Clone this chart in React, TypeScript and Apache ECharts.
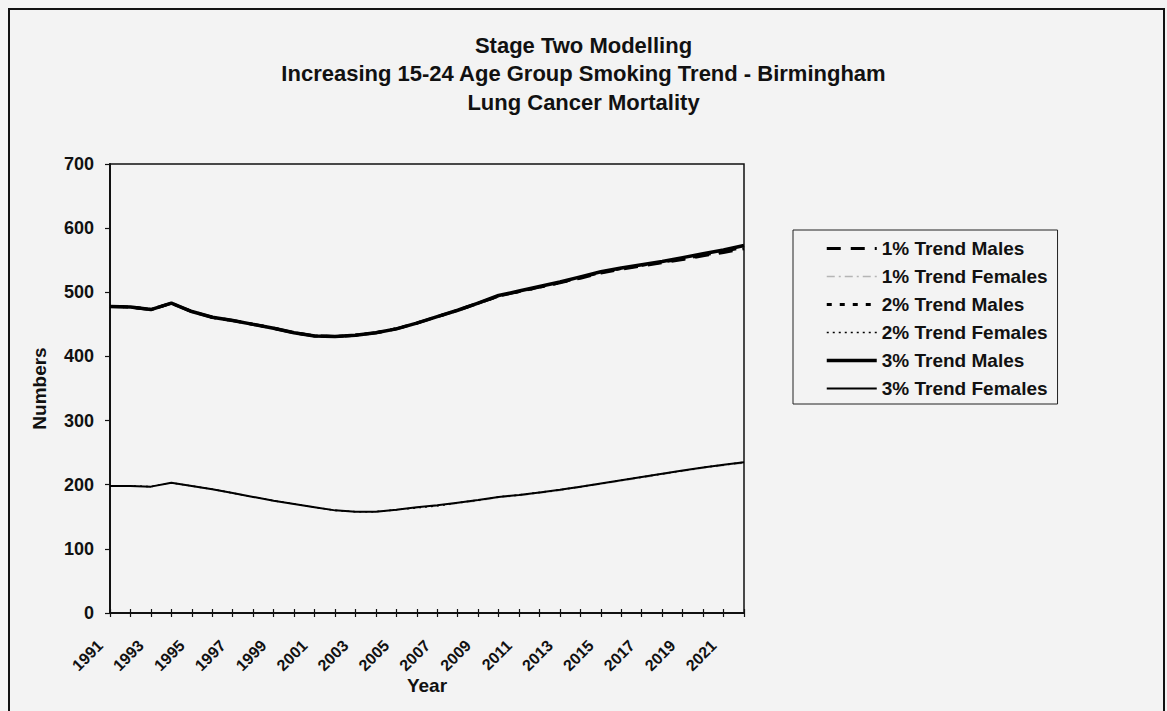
import React, { useEffect, useRef } from "react";
import * as echarts from "echarts";

const years = [
  "1991", "1992", "1993", "1994", "1995", "1996", "1997", "1998", "1999", "2000",
  "2001", "2002", "2003", "2004", "2005", "2006", "2007", "2008", "2009", "2010",
  "2011", "2012", "2013", "2014", "2015", "2016", "2017", "2018", "2019", "2020",
  "2021", "2022",
];

const males1 = [
  478, 477, 473, 483, 470, 461, 456, 450, 444, 437, 432, 431, 433, 437, 443, 452,
  462, 472, 483, 494, 501, 508, 515, 522, 530, 536, 541, 546, 551, 557, 562, 568,
];
const females1 = [
  198, 198, 197, 203, 198, 193, 187, 181, 175, 170, 165, 160, 158, 158, 161, 164,
  167, 171, 175, 180, 183, 187, 191, 196, 201, 206, 211, 216, 221, 226, 230, 234,
];
const males2 = [
  478, 477, 473, 483, 470, 461, 456, 450, 444, 437, 432, 431, 433, 437, 443, 452,
  462, 472, 483, 494, 501, 508, 515, 523, 531, 537, 542, 547, 552, 558, 564, 570,
];
const females2 = [
  198, 198, 197, 203, 198, 193, 187, 181, 175, 170, 165, 160, 158, 158, 161, 164,
  167, 172, 176, 181, 184, 188, 192, 197, 202, 207, 212, 217, 222, 227, 231, 235,
];
const males3 = [
  478, 477, 473, 483, 470, 461, 456, 450, 444, 437, 432, 431, 433, 437, 443, 452,
  462, 472, 483, 495, 502, 509, 516, 524, 532, 538, 543, 548, 554, 560, 566, 573,
];
const females3 = [
  198, 198, 197, 203, 198, 193, 187, 181, 175, 170, 165, 160, 158, 158, 161, 165,
  168, 172, 176, 181, 184, 188, 192, 197, 202, 207, 212, 217, 222, 227, 231, 235,
];

const seriesNames = [
  "1% Trend Males",
  "1% Trend Females",
  "2% Trend Males",
  "2% Trend Females",
  "3% Trend Males",
  "3% Trend Females",
];

const titleLines = [
  "Stage Two Modelling",
  "Increasing 15-24 Age Group Smoking Trend - Birmingham",
  "Lung Cancer Mortality",
];

const FONT = "'Liberation Sans', Arial, Helvetica, sans-serif";

export default function App() {
  const ref = useRef<HTMLDivElement>(null);

  useEffect(() => {
    if (!ref.current) return;
    const chart = echarts.init(ref.current, undefined, { renderer: "svg" });

    const styles = [
      { color: "#000", width: 3, type: [14, 10] as any },
      { color: "#b5b5b5", width: 1.5, type: [8, 4, 2, 4] as any },
      { color: "#000", width: 3, type: [5, 8] as any },
      { color: "#000", width: 1.5, type: [2, 4] as any },
      { color: "#000", width: 3.5, type: "solid" as any },
      { color: "#000", width: 2, type: "solid" as any },
    ];
    const datasets = [males1, females1, males2, females2, males3, females3];

    const series = seriesNames.map((name, i) => ({
      name,
      type: "line",
      data: datasets[i],
      symbol: "none",
      xAxisIndex: 0,
      yAxisIndex: 0,
      lineStyle: { color: styles[i].color, width: styles[i].width, type: styles[i].type },
      itemStyle: { color: styles[i].color },
    }));

    chart.setOption({
      animation: false,
      backgroundColor: "#f3f3f3",
      textStyle: { fontFamily: FONT },
      title: {
        text: titleLines.join("\n"),
        left: "center",
        top: 31,
        padding: 0,
        textStyle: {
          fontFamily: FONT,
          fontSize: 22,
          fontWeight: "bold",
          color: "#111",
          lineHeight: 28.5,
        },
      },
      graphic: [
        {
          type: "rect",
          shape: { x: 9, y: 9, width: 1155, height: 712 },
          style: { fill: "none", stroke: "#111", lineWidth: 2 },
          silent: true,
        },
      ],
      legend: {
        orient: "vertical",
        left: 793,
        top: 230,
        padding: [9, 10, 6, 32],
        itemGap: 9,
        itemWidth: 50,
        itemHeight: 19,
        borderColor: "#222",
        borderWidth: 1,
        backgroundColor: "#f3f3f3",
        textStyle: { fontFamily: FONT, fontSize: 19, fontWeight: "bold", color: "#111" },
        data: seriesNames.map((name, i) => ({
          name,
          itemStyle: { opacity: 0 },
          lineStyle: { color: styles[i].color, width: styles[i].width, type: styles[i].type },
        })),
      },
      grid: {
        left: 110,
        top: 164,
        right: 423,
        bottom: 98,
        show: true,
        borderColor: "#111",
        borderWidth: 1.5,
        backgroundColor: "transparent",
      },
      xAxis: [
        {
          type: "category",
          data: years,
          boundaryGap: false,
          name: "Year",
          nameLocation: "middle",
          nameGap: 63,
          nameMoveOverlap: false,
          nameTextStyle: { fontFamily: FONT, fontSize: 19, fontWeight: "bold", color: "#111" },
          axisLine: { show: true, lineStyle: { color: "#111", width: 2 } },
          axisTick: { show: true, interval: 0, length: 4, lineStyle: { color: "#111", width: 1.2 } },
          axisLabel: {
            interval: 1,
            rotate: 45,
            margin: 20,
            padding: [0, 14, 0, 0],
            fontFamily: FONT,
            fontSize: 16,
            fontWeight: "bold",
            color: "#111",
          },
          splitLine: { show: false },
        },
        {
          type: "category",
          data: years,
          boundaryGap: false,
          position: "bottom",
          axisLine: { show: false },
          axisTick: { show: true, inside: true, interval: 0, length: 4, lineStyle: { color: "#111", width: 1.2 } },
          axisLabel: { show: false },
          splitLine: { show: false },
        },
      ],
      yAxis: {
        type: "value",
        min: 0,
        max: 700,
        interval: 100,
        name: "Numbers",
        nameLocation: "middle",
        nameGap: 61,
        nameMoveOverlap: false,
        nameRotate: 90,
        nameTextStyle: { fontFamily: FONT, fontSize: 19, fontWeight: "bold", color: "#111" },
        axisLine: { show: true, lineStyle: { color: "#111", width: 2 } },
        axisTick: { show: true, length: 5, lineStyle: { color: "#111", width: 1.2 } },
        axisLabel: { margin: 16, fontFamily: FONT, fontSize: 18, fontWeight: "bold", color: "#111" },
        splitLine: { show: false },
      },
      series,
    });

    return () => chart.dispose();
  }, []);

  return (
    <div
      ref={ref}
      style={{ position: "fixed", left: 0, top: 0, width: 1167, height: 711 }}
    />
  );
}
